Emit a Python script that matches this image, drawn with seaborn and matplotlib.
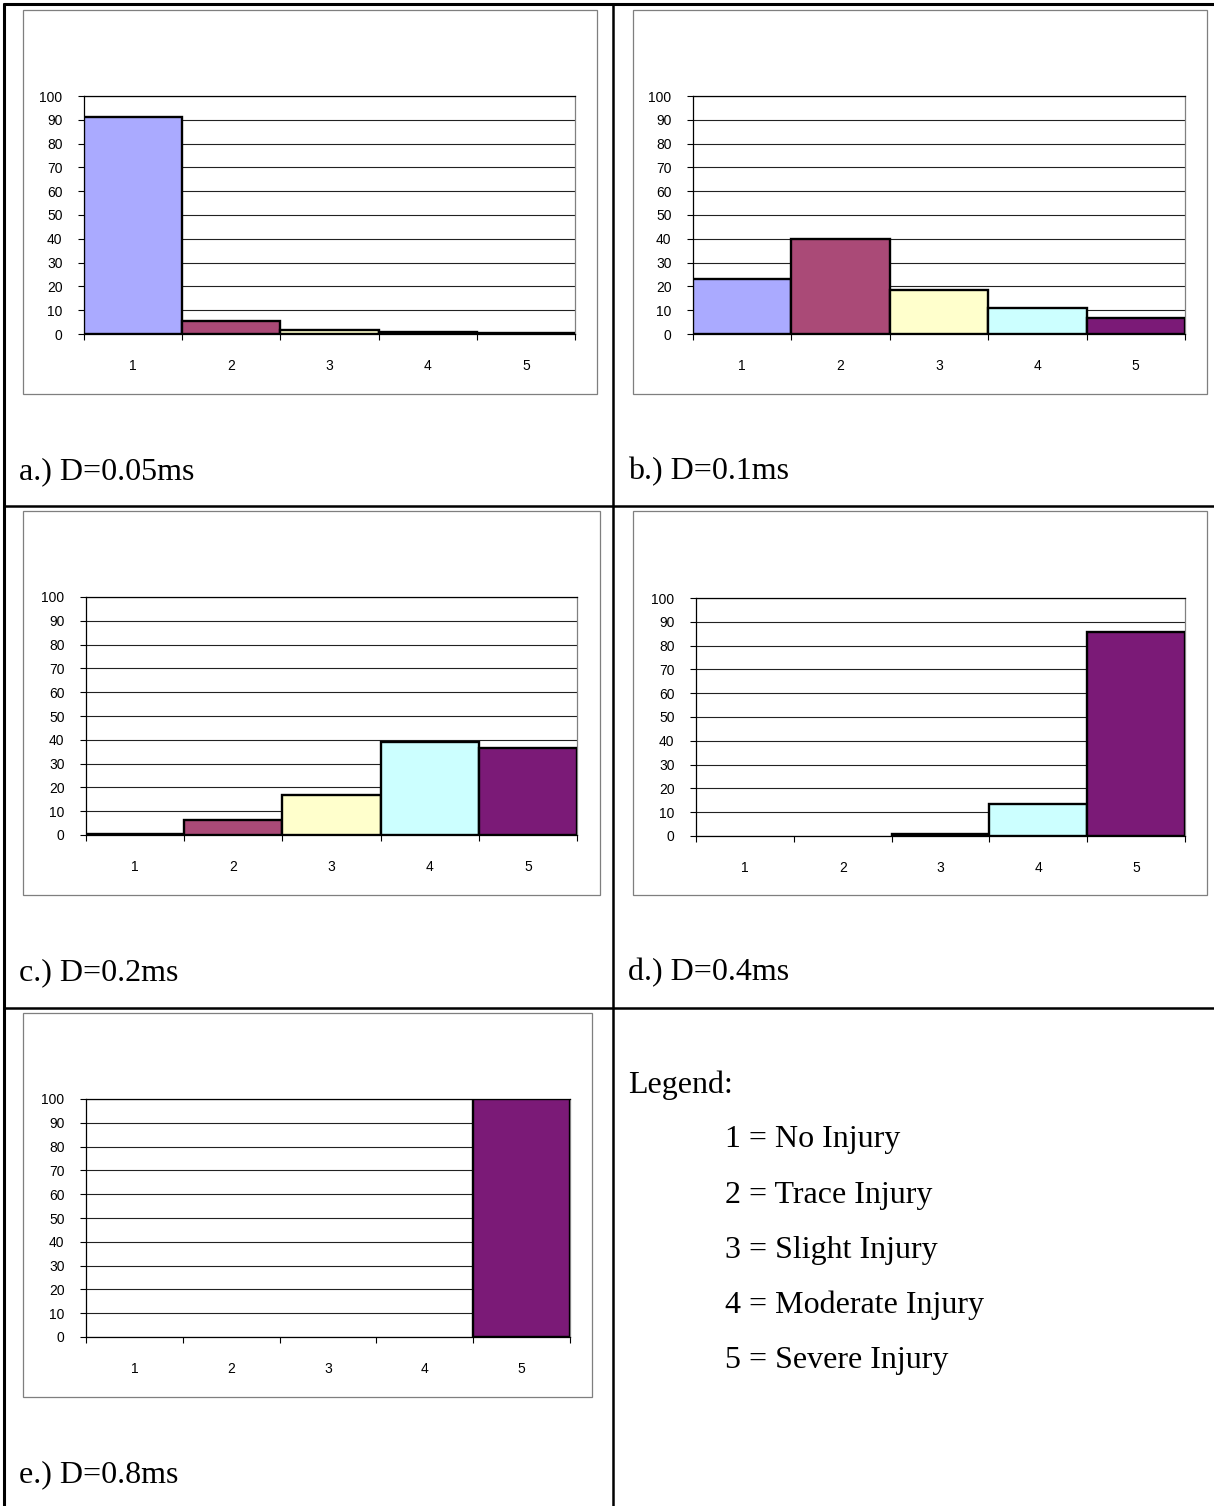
import matplotlib
matplotlib.use("Agg")
import matplotlib.pyplot as plt
from matplotlib.lines import Line2D
from matplotlib.patches import Rectangle
import seaborn as sns
import pandas as pd

# Injury grade distribution (%) for each pulse duration
categories = ["1", "2", "3", "4", "5"]
pct_005ms = [91.2, 5.6, 1.5, 1.0, 0.3]
pct_01ms = [23.0, 40.0, 18.5, 10.8, 6.8]
pct_02ms = [0.3, 6.5, 16.7, 39.0, 36.5]
pct_04ms = [0.0, 0.0, 0.7, 13.6, 85.7]
pct_08ms = [0.0, 0.0, 0.0, 0.0, 100.0]

panel_titles = ["a.) D=0.05ms", "b.) D=0.1ms", "c.) D=0.2ms", "d.) D=0.4ms", "e.) D=0.8ms"]
legend_title = "Legend:"
legend_entries = ["1 = No Injury", "2 = Trace Injury", "3 = Slight Injury",
                  "4 = Moderate Injury", "5 = Severe Injury"]
y_ticks = [0, 10, 20, 30, 40, 50, 60, 70, 80, 90, 100]

grade_colors = {"1": "#AAAAFF", "2": "#AA4A77", "3": "#FFFFCC", "4": "#CCFFFF", "5": "#7B1A77"}

sns.set_style("white")
plt.rcParams["font.family"] = ["Liberation Sans", "DejaVu Sans"]
plt.rcParams["text.color"] = "black"
plt.rcParams["xtick.color"] = "black"
plt.rcParams["ytick.color"] = "black"
plt.rcParams["axes.labelcolor"] = "black"

SERIF = ["Liberation Serif", "DejaVu Serif"]

W, H = 1214, 1506
fig = plt.figure(figsize=(W / 100, H / 100), dpi=100)
fig.patch.set_facecolor("white")


def fx(x):
    return x / W


def fy(y):
    return 1 - y / H


# Table grid around the panels
table_lines = [
    ((4, 1214), (4, 4), 2.2),
    ((4, 4), (4, 1506), 2.2),
    ((613, 613), (4, 1506), 1.8),
    ((4, 1214), (506, 506), 1.8),
    ((4, 1214), (1008, 1008), 1.8),
]
for xs, ys, lw in table_lines:
    fig.add_artist(Line2D([fx(xs[0]), fx(xs[1])], [fy(ys[0]), fy(ys[1])],
                          color="black", lw=lw, transform=fig.transFigure))

# Chart frames and plot-area boxes (pixel coordinates)
frames = [(23, 10, 597, 394), (633, 10, 1207, 394), (23, 511, 600, 895),
          (633, 511, 1207, 895), (23, 1013, 592, 1397)]
plot_areas = [(84, 96, 575, 334), (693, 96, 1185, 334), (86, 597, 577, 835),
              (696, 598, 1185, 836), (86, 1099, 570, 1337)]
title_pos = [(19, 472), (628, 472), (19, 973), (628, 973), (19, 1475)]
series = [pct_005ms, pct_01ms, pct_02ms, pct_04ms, pct_08ms]

for frame, area, tpos, values, title in zip(frames, plot_areas, title_pos, series, panel_titles):
    x0, y0, x1, y1 = frame
    fig.add_artist(Rectangle((fx(x0), fy(y1)), fx(x1 - x0), (y1 - y0) / H,
                             fill=False, edgecolor="#7F7F7F", lw=0.9,
                             transform=fig.transFigure))

    l, t, r, b = area
    ax = fig.add_axes([fx(l), fy(b), fx(r - l), (b - t) / H])
    df = pd.DataFrame({"grade": categories, "pct": values})
    sns.barplot(data=df, x="grade", y="pct", hue="grade", palette=grade_colors,
                order=categories, hue_order=categories, width=1.0, saturation=1,
                edgecolor="black", linewidth=1.7, legend=False, ax=ax, zorder=3)
    for patch in ax.patches:
        if patch.get_height() == 0:
            patch.set_linewidth(0)

    ax.set_xlim(-0.5, 4.5)
    ax.set_ylim(0, 100)
    ax.set_axisbelow(True)
    ax.set_yticks(y_ticks)
    ax.set_yticklabels([str(v) for v in y_ticks], fontsize=10)
    ax.yaxis.grid(True, color="#222222", lw=0.8)
    ax.xaxis.grid(False)

    ax.set_xticks([i - 0.5 for i in range(len(categories) + 1)])
    ax.set_xticklabels([])
    ax.set_xticks(range(len(categories)), minor=True)
    ax.set_xticklabels(categories, minor=True, fontsize=10)
    ax.tick_params(axis="x", which="major", direction="out", length=4, width=0.8,
                   color="black", bottom=True)
    ax.tick_params(axis="x", which="minor", length=0, pad=18)
    ax.tick_params(axis="y", direction="out", length=4, width=0.8, color="black",
                   left=True, pad=11.5)
    ax.set_xlabel("")
    ax.set_ylabel("")

    for side in ["left", "bottom", "top"]:
        ax.spines[side].set_color("black")
        ax.spines[side].set_linewidth(0.9)
    ax.spines["right"].set_color("#808080")
    ax.spines["right"].set_linewidth(0.9)

    fig.text(fx(tpos[0]), fy(tpos[1]), title, fontsize=23,
             family=SERIF, ha="left", va="center")

# Legend cell
fig.text(fx(628), fy(1085), legend_title, fontsize=23,
         family=SERIF, ha="left", va="center")
for i, entry in enumerate(legend_entries):
    fig.text(fx(725), fy(1140 + i * 55.2), entry, fontsize=23,
             family=SERIF, ha="left", va="center")

fig.savefig("out.png", dpi=100, facecolor="white")
